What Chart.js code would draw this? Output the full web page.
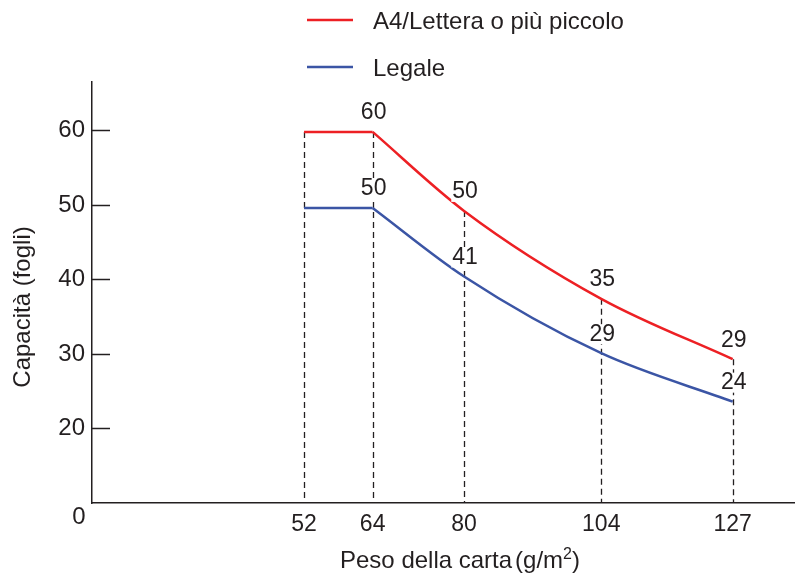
<!DOCTYPE html>
<html>
<head>
<meta charset="utf-8">
<script src="https://cdn.jsdelivr.net/npm/chart.js@4.4.1/dist/chart.umd.min.js"></script>
<style>
  html, body { margin: 0; padding: 0; background: #fff; }
  #wrap { width: 795px; height: 580px; position: relative; }
</style>
</head>
<body>
<div id="wrap"><canvas id="c" width="795" height="580"></canvas></div>
<script>
// ---- data ----
const weights = [52, 64, 80, 104, 127];
const a4Values = [59.8, 59.8, 49.2, 37.4, 29.3];
const legalValues = [49.6, 49.6, 40.4, 30.1, 23.6];
const a4Labels = [null, '60', '50', '35', '29'];
const legalLabels = [null, '50', '41', '29', '24'];
const yTicks = [20, 30, 40, 50, 60];
const seriesNames = ['A4/Lettera o più piccolo', 'Legale'];
const yTitle = 'Capacità (fogli)';
const xTitleMain = 'Peso della carta';
const xTitleUnit = ['(g/m', '2', ')'];
const originLabel = '0';

const RED = '#ed2024';
const BLUE = '#3b55a5';
const INK = '#231f20';
const FONT = '"Liberation Sans", Arial, sans-serif';

const pts = (vals, from, to) => weights.slice(from, to).map((x, i) => ({ x, y: vals[from + i] }));

const annot = {
  id: 'annot',
  beforeDatasetsDraw(chart) {
    const { ctx, scales: { x, y }, chartArea } = chart;
    ctx.save();
    ctx.strokeStyle = INK;
    ctx.lineWidth = 1.3;
    ctx.setLineDash([6, 4]);
    weights.forEach((w, i) => {
      const px = Math.round(x.getPixelForValue(w)) + 0.5;
      ctx.beginPath();
      ctx.moveTo(px, y.getPixelForValue(a4Values[i]));
      ctx.lineTo(px, chartArea.bottom);
      ctx.stroke();
    });
    ctx.setLineDash([]);
    ctx.lineWidth = 1.5;
    yTicks.forEach(t => {
      const py = Math.round(y.getPixelForValue(t)) + 0.5;
      ctx.beginPath();
      ctx.moveTo(chartArea.left, py);
      ctx.lineTo(chartArea.left + 18, py);
      ctx.stroke();
    });
    ctx.restore();
  },
  afterDatasetsDraw(chart) {
    const { ctx, scales: { x, y }, chartArea } = chart;
    ctx.save();
    ctx.font = '23px ' + FONT;
    ctx.textAlign = 'center';
    ctx.textBaseline = 'middle';
    const drawLabel = (txt, px, py) => {
      const w = ctx.measureText(txt).width;
      ctx.fillStyle = '#fff';
      ctx.fillRect(px - w / 2 - 1, py - 10, w + 2, 20);
      ctx.fillStyle = INK;
      ctx.fillText(txt, px, py);
    };
    weights.forEach((w, i) => {
      const px = x.getPixelForValue(w);
      if (a4Labels[i]) drawLabel(a4Labels[i], px + 1, y.getPixelForValue(a4Values[i]) - 19);
      if (legalLabels[i]) drawLabel(legalLabels[i], px + 1, y.getPixelForValue(legalValues[i]) - 19);
    });
    // origin label
    ctx.fillStyle = INK;
    ctx.font = '24px ' + FONT;
    ctx.fillText(originLabel, 79, chartArea.bottom + 14);
    // y axis title
    ctx.save();
    ctx.translate(23, 307);
    ctx.rotate(-Math.PI / 2);
    ctx.fillText(yTitle, 0, 0);
    ctx.restore();
    // x axis title with superscript
    ctx.textBaseline = 'alphabetic';
    ctx.textAlign = 'left';
    const bigF = '24px ' + FONT, smallF = '16px ' + FONT;
    ctx.font = bigF;
    const wMain = ctx.measureText(xTitleMain).width;
    const w0 = ctx.measureText(xTitleUnit[0]).width;
    const w2 = ctx.measureText(xTitleUnit[2]).width;
    ctx.font = smallF;
    const w1 = ctx.measureText(xTitleUnit[1]).width;
    const gap = 3;
    let tx = 460 - (wMain + gap + w0 + w1 + w2) / 2;
    const base = 568;
    ctx.font = bigF;
    ctx.fillText(xTitleMain, tx, base); tx += wMain + gap;
    ctx.fillText(xTitleUnit[0], tx, base); tx += w0;
    ctx.font = smallF;
    ctx.fillText(xTitleUnit[1], tx, base - 9); tx += w1;
    ctx.font = bigF;
    ctx.fillText(xTitleUnit[2], tx, base);
    // legend
    const colors = [RED, BLUE];
    const ly = [20, 67];
    ctx.textBaseline = 'middle';
    seriesNames.forEach((n, i) => {
      ctx.strokeStyle = colors[i];
      ctx.lineWidth = 2.5;
      ctx.beginPath();
      ctx.moveTo(307, ly[i]);
      ctx.lineTo(353, ly[i]);
      ctx.stroke();
      ctx.fillStyle = INK;
      ctx.fillText(n, 373, ly[i] + 2);
    });
    ctx.restore();
  }
};

new Chart(document.getElementById('c'), {
  type: 'line',
  data: {
    datasets: [
      { label: seriesNames[0], data: pts(a4Values, 0, 2), borderColor: RED, borderWidth: 2.5, tension: 0, pointRadius: 0 },
      { label: seriesNames[0], data: pts(a4Values, 1, 5), borderColor: RED, borderWidth: 2.5, cubicInterpolationMode: 'monotone', pointRadius: 0 },
      { label: seriesNames[1], data: pts(legalValues, 0, 2), borderColor: BLUE, borderWidth: 2.5, tension: 0, pointRadius: 0 },
      { label: seriesNames[1], data: pts(legalValues, 1, 5), borderColor: BLUE, borderWidth: 2.5, cubicInterpolationMode: 'monotone', pointRadius: 0 }
    ]
  },
  options: {
    responsive: false,
    animation: false,
    layout: { padding: { top: 82, left: 0, right: 0, bottom: 0 } },
    plugins: { legend: { display: false }, tooltip: { enabled: false } },
    scales: {
      x: {
        type: 'linear',
        min: 14.9, max: 137.9,
        afterBuildTicks: s => { s.ticks = weights.map(v => ({ value: v })); },
        afterFit: s => { s.height = 77; },
        grid: { display: false, drawTicks: false },
        border: { display: true, color: INK, width: 1.5 },
        ticks: { color: INK, font: { size: 23, family: FONT }, padding: 8, maxRotation: 0, autoSkip: false }
      },
      y: {
        min: 10, max: 66.5,
        afterBuildTicks: s => { s.ticks = yTicks.map(v => ({ value: v })); },
        afterFit: s => { s.width = 92; },
        grid: { display: false, drawTicks: false },
        border: { display: true, color: INK, width: 1.5 },
        ticks: { color: INK, font: { size: 24, family: FONT }, padding: 7 }
      }
    }
  },
  plugins: [annot]
});
</script>
</body>
</html>
